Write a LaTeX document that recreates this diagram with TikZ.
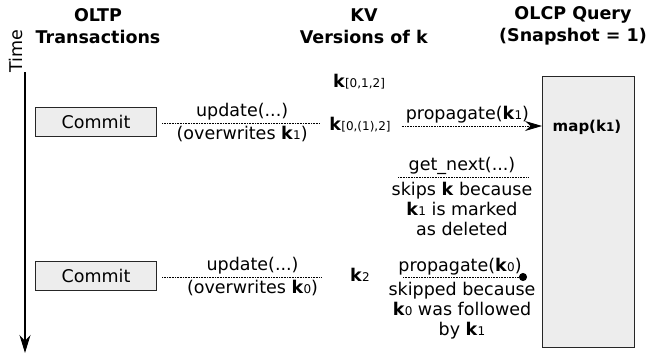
\documentclass[tikz,border=0pt]{standalone}
\usepackage{fontspec}
\setmainfont{DejaVu Sans}
\usetikzlibrary{arrows.meta,positioning}

\newcommand{\kb}{\textbf{k}}
\newcommand{\ksub}[1]{{\fontsize{12}{12}\selectfont #1}}

\tikzset{
  heading/.style={font=\bfseries\fontsize{17.5}{22}\selectfont, align=center},
  txt/.style={font=\fontsize{17.5}{20}\selectfont, align=center, inner sep=2pt},
  commitbox/.style={draw=black!85, fill=black!7, line width=1.2pt,
    minimum width=121pt, minimum height=29pt, font=\fontsize{17.5}{20}\selectfont},
  querybox/.style={draw=black!85, fill=black!7, line width=1.2pt,
    minimum width=92pt, minimum height=271pt, anchor=north west},
  dotline/.style={dash pattern=on 0.8pt off 0.8pt, line width=0.9pt},
}

\begin{document}
\begin{tikzpicture}[x=1pt,y=-1pt]
  \useasboundingbox (0,0) rectangle (647,356);

  % column headings
  \node[heading] (oltp) at (98,26) {OLTP\\Transactions};
  \node[heading] (kvhead) at (364,26) {KV\\Versions of \kb};
  \node[heading] (olcp) at (573,26) {OLCP Query\\(Snapshot = 1)};

  % time axis
  \node[txt, rotate=90] (time) at (16,51) {Time};
  \coordinate (tstart) at (25,72);
  \coordinate (tend) at (25,353);
  \draw[line width=1.3pt, -{Stealth[length=18pt,width=11pt]}] (tstart) -- (tend);

  % transactions
  \node[commitbox] (commitA) at (96,122) {Commit};
  \node[commitbox] (commitB) at (96,276) {Commit};

  % versions of k
  \node[txt] (verA) at (359,82) {\kb\ksub{[0,1,2]}};
  \node[txt] (verB) at (360,125) {\kb\ksub{[0,(1),2]}};
  \node[txt] (verC) at (360,275) {\kb\ksub{2}};

  % query
  \node[querybox] (query) at (542,76) {};
  \node[font=\bfseries\fontsize{15}{15}\selectfont] (map) at (587,127) {map(k\ksub{1})};

  % updates
  \draw[dotline, shorten <=5pt, shorten >=8pt] (commitA.east |- 0,123) --
    node[txt, above=0.5pt] (updA) {update(...)}
    node[txt, below=0.5pt] (owA) {(overwrites \kb\ksub{1})} (verB.west |- 0,123);
  \draw[dotline, shorten <=5pt, shorten >=26pt] (commitB.east |- 0,277) --
    node[txt, above=0.5pt] (updB) {update(...)}
    node[txt, below=0.5pt] (owB) {(overwrites \kb\ksub{0})} (verC.west |- 0,277);

  % propagation
  \draw[dotline, -{Stealth[length=17pt,width=10pt]}, shorten <=9pt]
    (verB.east |- 0,126) -- node[txt, above=0pt] (propA) {propagate(\kb\ksub{1})} (query.west |- 0,126);

  % get_next
  \node[txt] (getnext) at (462,166) {get\_next(...)};
  \coordinate (gnL) at (398,177);
  \coordinate (gnR) at (528,177);
  \draw[dotline] (gnL) -- (gnR);
  \node[txt] (skipA) at (462,209) {skips \kb\ because\\\kb\ksub{1} is marked\\as deleted};

  % skipped propagation
  \node[txt] (propB) at (460,267) {propagate(\kb\ksub{0})};
  \coordinate (pbL) at (403,277);
  \coordinate (pbR) at (527,277);
  \draw[dotline, -{Circle[length=8pt]}] (pbL) -- (pbR);
  \node[txt] (skipB) at (462,311) {skipped because\\\kb\ksub{0} was followed\\by \kb\ksub{1}};
\end{tikzpicture}
\end{document}
